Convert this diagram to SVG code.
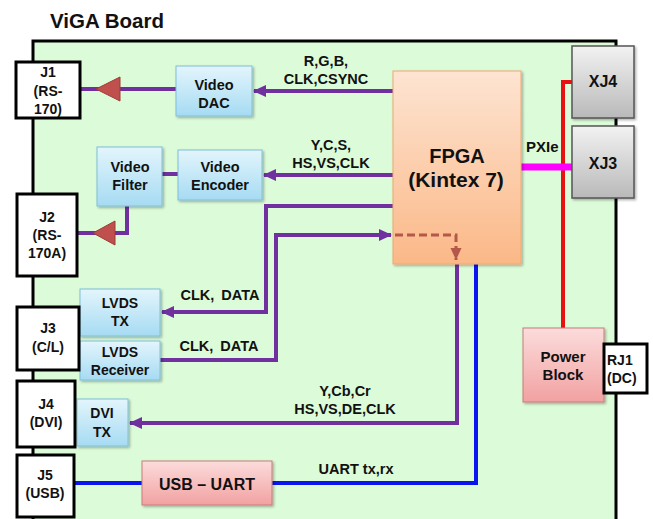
<svg xmlns="http://www.w3.org/2000/svg" width="653" height="519" viewBox="0 0 653 519">
<style>
text{font-family:"Liberation Sans",Arial,sans-serif;font-weight:bold;fill:#111;}
.c{text-anchor:middle;}
.t14{font-size:14px;}
.t145{font-size:14.5px;}
.t15{font-size:15px;}
.t16{font-size:16px;}
.conn{fill:#fff;stroke:#000;stroke-width:3;}
.blue{fill:url(#gBlue);stroke:#7fc0da;stroke-width:1;filter:url(#sh);}
.pink{fill:url(#gPink);stroke:#c97a7a;stroke-width:1;filter:url(#sh);}
.gray{fill:url(#gGray);stroke:#555;stroke-width:1.5;filter:url(#sh);}
.pur{fill:none;stroke:#7030a0;stroke-width:4;}
.tri{fill:#c0504d;stroke:#9c3b38;stroke-width:1;}
</style>
<defs>
<linearGradient id="gBlue" x1="0" y1="0" x2="0" y2="1"><stop offset="0" stop-color="#e3f5fc"/><stop offset="1" stop-color="#a6dbf3"/></linearGradient>
<linearGradient id="gPink" x1="0" y1="0" x2="0" y2="1"><stop offset="0" stop-color="#fcdcdc"/><stop offset="1" stop-color="#f2a1a1"/></linearGradient>
<linearGradient id="gGray" x1="0" y1="0" x2="0" y2="1"><stop offset="0" stop-color="#f2f2f2"/><stop offset="1" stop-color="#b9b9b9"/></linearGradient>
<linearGradient id="gOrange" x1="0" y1="0" x2="0" y2="1"><stop offset="0" stop-color="#fde4d2"/><stop offset="1" stop-color="#fbb887"/></linearGradient>
<filter id="sh" x="-10%" y="-10%" width="130%" height="130%"><feDropShadow dx="1.5" dy="1.5" stdDeviation="1" flood-color="#000" flood-opacity="0.3"/></filter>
<marker id="ap" markerUnits="userSpaceOnUse" markerWidth="14" markerHeight="14" refX="12" refY="7" orient="auto"><path d="M0,1 L13,7 L0,13 Z" fill="#7030a0"/></marker>
<marker id="ab" markerUnits="userSpaceOnUse" markerWidth="14" markerHeight="14" refX="12" refY="7" orient="auto"><path d="M0,1.5 L12,7 L0,12.5 Z" fill="#b5574a"/></marker>
</defs>

<text x="50" y="28" style="font-size:20.5px">ViGA Board</text>
<rect id="board" x="33" y="41" width="583" height="500" fill="#dcfbd8" stroke="#000" stroke-width="3"/>

<g id="connectors">
<path class="pur" d="M393,91 H254" marker-end="url(#ap)"/>
<path class="pur" d="M393,175 H264" marker-end="url(#ap)"/>
<path class="pur" d="M176,89 H80"/>
<polygon class="tri" points="96,89 120,77 120,101"/>
<path class="pur" d="M178,174 H162"/>
<path class="pur" d="M127,206 V233 H77"/>
<polygon class="tri" points="93,233 115,221 115,245"/>
<path class="pur" d="M393,206 H266 V312 H162" marker-end="url(#ap)"/>
<path class="pur" d="M160,360 H276 V235 H391" marker-end="url(#ap)"/>
<path class="pur" d="M457,264 V423 H130" marker-end="url(#ap)"/>
<path d="M476,264 V483 H74" fill="none" stroke="#0a14ee" stroke-width="4"/>
<path d="M572,82 H563 V328" fill="none" stroke="#e81212" stroke-width="4"/>
<path d="M521,167 H572" fill="none" stroke="#ff00ff" stroke-width="7"/>
</g>

<g id="fpga">
<rect x="393" y="71" width="128" height="193" fill="url(#gOrange)" stroke="#f0a870" stroke-width="1" filter="url(#sh)"/>
<text class="c" x="457" y="163" style="font-size:20px">FPGA</text>
<text class="c" x="456" y="187" style="font-size:21px">(Kintex 7)</text>
</g>
<g id="dashed-link">
<path d="M395,235 H456 V260" fill="none" stroke="#b5574a" stroke-width="3" stroke-dasharray="8,4" marker-end="url(#ab)"/>
</g>

<g id="video-dac"><rect class="blue" x="176" y="66" width="76" height="50"/>
<text class="c t145" x="214" y="90">Video</text><text class="c t145" x="214" y="108">DAC</text></g>
<g id="video-encoder"><rect class="blue" x="178" y="150" width="84" height="50"/>
<text class="c t145" x="220" y="172">Video</text><text class="c t145" x="220" y="190">Encoder</text></g>
<g id="video-filter"><rect class="blue" x="97" y="147" width="65" height="59"/>
<text class="c t145" x="130" y="172">Video</text><text class="c t145" x="130" y="190">Filter</text></g>
<g id="lvds-tx"><rect class="blue" x="80" y="289" width="80" height="47"/>
<text class="c t14" x="120" y="308">LVDS</text><text class="c t14" x="120" y="326">TX</text></g>
<g id="lvds-rx"><rect class="blue" x="80" y="341" width="80" height="39"/>
<text class="c t14" x="120" y="357">LVDS</text><text class="c t14" x="120" y="375">Receiver</text></g>
<g id="dvi-tx"><rect class="blue" x="77" y="399" width="51" height="47"/>
<text class="c t14" x="102" y="418">DVI</text><text class="c t14" x="102" y="437">TX</text></g>
<g id="usb-uart"><rect class="pink" x="142" y="461" width="130" height="44"/>
<text class="c" x="207" y="490" style="font-size:16px">USB – UART</text></g>
<g id="power-block"><rect class="pink" x="523" y="328" width="81" height="74"/>
<text class="c t15" x="563" y="362">Power</text><text class="c t15" x="563" y="380">Block</text></g>

<g id="xj4"><rect class="gray" x="572" y="46" width="62" height="72"/>
<text class="c t16" x="603" y="87">XJ4</text></g>
<g id="xj3"><rect class="gray" x="572" y="126" width="62" height="72"/>
<text class="c t16" x="603" y="169">XJ3</text></g>

<g id="j1"><rect class="conn" x="16" y="62" width="64" height="56"/>
<text class="c t14" x="48" y="77">J1</text><text class="c t14" x="48" y="96">(RS-</text><text class="c t14" x="48" y="114">170)</text></g>
<g id="j2"><rect class="conn" x="17" y="194" width="60" height="82"/>
<text class="c t14" x="47" y="222">J2</text><text class="c t14" x="47" y="240">(RS-</text><text class="c t14" x="47" y="258">170A)</text></g>
<g id="j3"><rect class="conn" x="17" y="307" width="62" height="63"/>
<text class="c t14" x="48" y="333">J3</text><text class="c t14" x="48" y="352">(C/L)</text></g>
<g id="j4"><rect class="conn" x="17" y="381" width="58" height="66"/>
<text class="c t14" x="46" y="409">J4</text><text class="c t14" x="46" y="427">(DVI)</text></g>
<g id="j5"><rect class="conn" x="17" y="455" width="57" height="62"/>
<text class="c t14" x="45" y="480">J5</text><text class="c t14" x="45" y="498">(USB)</text></g>
<g id="rj1"><rect class="conn" x="604" y="344" width="43" height="49"/>
<text class="t14" x="607" y="365">RJ1</text><text class="t14" x="607" y="383">(DC)</text></g>

<g id="labels">
<text class="c t145" x="326" y="66">R,G,B,</text>
<text class="c t145" x="326" y="84">CLK,CSYNC</text>
<text class="c t145" x="331" y="150">Y,C,S,</text>
<text class="c t145" x="331" y="168">HS,VS,CLK</text>
<text class="t15" x="526" y="152">PXIe</text>
<text class="c t145" x="220" y="300" style="word-spacing:3px">CLK, DATA</text>
<text class="c t145" x="219" y="351" style="word-spacing:3px">CLK, DATA</text>
<text class="c t145" x="345" y="396">Y,Cb,Cr</text>
<text class="c t145" x="345" y="414">HS,VS,DE,CLK</text>
<text class="c t145" x="356" y="474">UART tx,rx</text>
</g>
</svg>
